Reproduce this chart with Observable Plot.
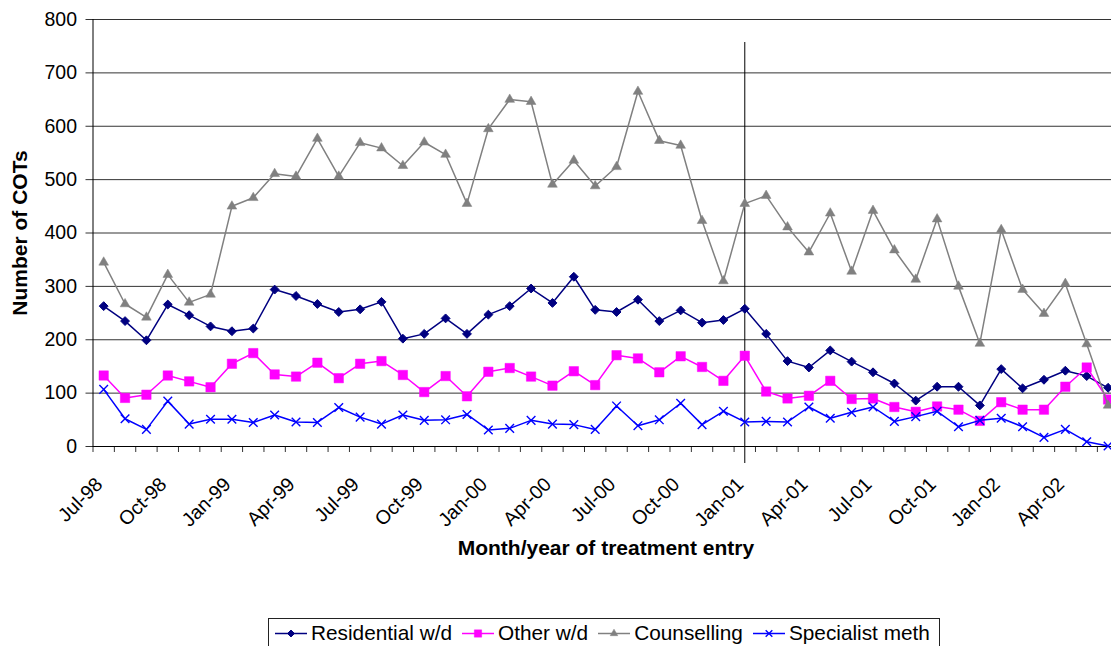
<!DOCTYPE html>
<html>
<head>
<meta charset="utf-8">
<script src="https://cdn.jsdelivr.net/npm/d3@7"></script>
<script src="https://cdn.jsdelivr.net/npm/@observablehq/plot@0.6"></script>
<style>
  body { margin: 0; background: #fff; font-family: "Liberation Sans", Arial, sans-serif; }
  #chart svg { display: block; }
  #legend {
    box-sizing: border-box;
    margin-left: 268px;
    width: 672px;
    height: 30px;
    border: 1px solid #222;
    display: flex;
    align-items: center;
    gap: 10px;
    padding-left: 6px;
    font-size: 20.8px;
    color: #000;
    white-space: nowrap;
  }
  #legend .item { display: flex; align-items: center; gap: 4px; }
  #legend svg { display: block; }
</style>
</head>
<body>
<div id="chart"></div>
<script>
// ---- data ----
const months = [
  "Jul-98","Aug-98","Sep-98","Oct-98","Nov-98","Dec-98",
  "Jan-99","Feb-99","Mar-99","Apr-99","May-99","Jun-99","Jul-99","Aug-99","Sep-99","Oct-99","Nov-99","Dec-99",
  "Jan-00","Feb-00","Mar-00","Apr-00","May-00","Jun-00","Jul-00","Aug-00","Sep-00","Oct-00","Nov-00","Dec-00",
  "Jan-01","Feb-01","Mar-01","Apr-01","May-01","Jun-01","Jul-01","Aug-01","Sep-01","Oct-01","Nov-01","Dec-01",
  "Jan-02","Feb-02","Mar-02","Apr-02","May-02","Jun-02"
];
const residential = [263,235,199,266,246,225,216,221,294,282,267,252,257,271,202,211,240,211,
  247,263,296,269,318,256,252,275,235,255,232,237,258,211,160,148,180,159,139,118,86,112,112,77,
  145,109,125,142,132,110];
const otherWd = [133,91,97,133,122,111,155,175,135,131,157,128,155,160,134,102,132,94,
  140,147,131,114,141,115,171,165,139,169,149,123,170,103,90,95,123,89,90,74,65,75,69,48,
  83,69,69,112,148,88];
const counselling = [345,267,242,322,270,285,450,466,511,506,577,506,569,559,526,570,547,455,
  595,650,646,491,536,488,524,665,573,564,423,310,455,470,411,364,437,328,442,368,313,426,300,193,
  406,294,249,305,192,77];
const specialist = [107,52,32,85,42,51,51,45,59,46,45,73,55,42,59,49,50,60,
  31,34,49,42,41,32,76,39,50,81,41,66,46,47,46,74,53,64,74,47,56,66,37,49,
  53,37,17,32,9,1];
const tickLabels = ["Jul-98","Oct-98","Jan-99","Apr-99","Jul-99","Oct-99","Jan-00","Apr-00",
  "Jul-00","Oct-00","Jan-01","Apr-01","Jul-01","Oct-01","Jan-02","Apr-02"];
const yTicks = [0,100,200,300,400,500,600,700,800];
const divider = "Jan-01";
const seriesNames = ["Residential w/d","Other w/d","Counselling","Specialist meth"];
const xTitle = "Month/year of treatment entry";
const yTitle = "Number of COTs";

// ---- styles ----
const styles = [
  {values: residential, color: "#000080", symbol: "diamond2", d3sym: d3.symbolDiamond2, r: 4, fill: "#000080", sw: 1},
  {values: otherWd, color: "#FF00FF", symbol: "square", d3sym: d3.symbolSquare, r: 5.3, fill: "#FF00FF", sw: 0.5},
  {values: counselling, color: "#808080", symbol: "triangle", d3sym: d3.symbolTriangle, r: 3.6, fill: "#808080", sw: 0.5},
  {values: specialist, color: "#0000FF", symbol: "times", d3sym: d3.symbolTimes, r: 4, fill: "none", sw: 1.4}
];

const W = 1111, H = 618;
const n = months.length;
const mLeft = 92.5, step = 21.37, mTop = 19, yBottom = 446;
const font = "Liberation Sans, Arial, sans-serif";

const seriesData = styles.map((s, k) => s.values.map((v, i) => ({i, v, series: seriesNames[k]})));
const boundaries = d3.range(n + 1).map(k => k - 0.5);

const marks = [
  Plot.ruleY(yTicks, {y: d => d, stroke: "#000", strokeOpacity: 0.8, strokeWidth: 1, insetLeft: -7}),
  Plot.ruleX([-0.5], {stroke: "#000", strokeWidth: 1}),
  Plot.ruleY([0], {stroke: "#000", strokeWidth: 1}),
  Plot.ruleX(boundaries, {stroke: "#000", strokeOpacity: 0.8, insetTop: yBottom - mTop, insetBottom: -6}),
  Plot.ruleX([months.indexOf(divider)], {stroke: "#000", strokeWidth: 1, insetTop: 23, insetBottom: -17}),
  Plot.text(yTicks, {y: d => d, text: d => String(d), frameAnchor: "left", dx: -16, textAnchor: "end",
    fontSize: 19.5, fill: "#000", lineAnchor: "middle"}),
  Plot.text(tickLabels, {x: d => months.indexOf(d), text: d => d, frameAnchor: "bottom", dy: 39,
    rotate: -45, textAnchor: "end", lineAnchor: "bottom", fontSize: 19.5, fill: "#000"}),
  Plot.text([xTitle], {x: (n - 1) / 2, text: d => d, frameAnchor: "bottom", dy: 102, fontWeight: "bold",
    fontSize: 21, lineAnchor: "middle", textAnchor: "middle", fill: "#000"}),
  Plot.text([yTitle], {y: 400, text: d => d, frameAnchor: "left", dx: -73, rotate: -90, fontWeight: "bold",
    fontSize: 21, lineAnchor: "middle", textAnchor: "middle", fill: "#000"})
];

styles.forEach((s, k) => {
  marks.push(Plot.line(seriesData[k], {x: "i", y: "v", stroke: s.color, strokeWidth: 1.5}));
  marks.push(Plot.dot(seriesData[k], {x: "i", y: "v", symbol: s.symbol, r: s.r, fill: s.fill,
    stroke: s.color, strokeWidth: s.sw}));
});

const chart = Plot.plot({
  width: W,
  height: H,
  marginLeft: mLeft,
  marginRight: 0,
  marginTop: mTop,
  marginBottom: H - yBottom,
  x: {type: "linear", domain: [-0.5, n - 0.5], range: [mLeft, mLeft + n * step], axis: null},
  y: {type: "linear", domain: [0, 800], axis: null},
  style: {fontFamily: font, background: "#fff", overflow: "visible"},
  marks
});
document.getElementById("chart").appendChild(chart);

// ---- legend ----
const legend = document.createElement("div");
legend.id = "legend";
styles.forEach((s, k) => {
  const item = document.createElement("div");
  item.className = "item";
  const sw = d3.create("svg").attr("width", 32).attr("height", 20);
  sw.append("line").attr("x1", 0).attr("x2", 32).attr("y1", 10.5).attr("y2", 10.5)
    .attr("stroke", s.color).attr("stroke-width", 1.5);
  const rr = s.r * 0.78;
  sw.append("path").attr("transform", "translate(16,10.5)")
    .attr("d", d3.symbol(s.d3sym, rr * rr * Math.PI)())
    .attr("fill", s.fill).attr("stroke", s.color).attr("stroke-width", s.sw);
  item.appendChild(sw.node());
  const t = document.createElement("span");
  t.textContent = seriesNames[k];
  item.appendChild(t);
  legend.appendChild(item);
});
document.body.appendChild(legend);
</script>
</body>
</html>
